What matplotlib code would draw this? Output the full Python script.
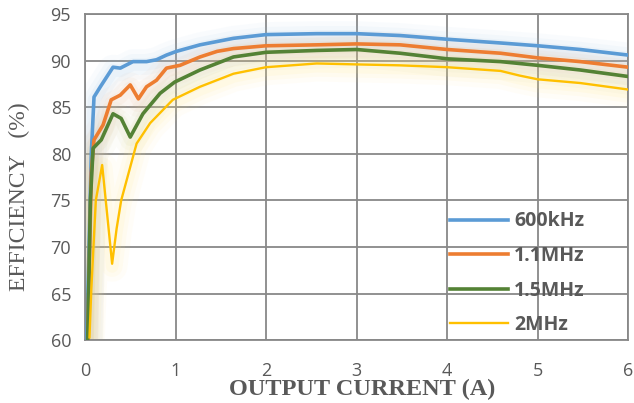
import matplotlib
matplotlib.use('Agg')
import matplotlib.pyplot as plt

# efficiency vs output current for four switching frequencies
x_600k = [0.02, 0.07, 0.10, 0.17, 0.31, 0.39, 0.53, 0.68, 0.79, 0.90, 1.01, 1.27, 1.64, 2.0, 2.56, 3.0, 3.48, 4.0, 4.59, 5.0, 5.47, 6.0]
y_600k = [60.0, 80.0, 86.1, 87.2, 89.3, 89.2, 89.9, 89.9, 90.1, 90.6, 91.0, 91.7, 92.4, 92.8, 92.9, 92.9, 92.7, 92.3, 91.9, 91.6, 91.2, 90.6]

x_1m1 = [0.03, 0.07, 0.10, 0.20, 0.29, 0.39, 0.50, 0.59, 0.68, 0.79, 0.90, 1.05, 1.27, 1.46, 1.64, 2.0, 2.56, 3.0, 3.48, 4.0, 4.59, 5.0, 5.47, 6.0]
y_1m1 = [60.0, 78.0, 81.5, 83.1, 85.8, 86.3, 87.4, 85.9, 87.2, 87.9, 89.2, 89.5, 90.4, 91.0, 91.3, 91.6, 91.7, 91.8, 91.7, 91.2, 90.8, 90.3, 89.9, 89.3]

x_1m5 = [0.03, 0.06, 0.09, 0.18, 0.31, 0.40, 0.50, 0.64, 0.83, 0.99, 1.27, 1.64, 2.0, 2.56, 3.0, 3.48, 4.0, 4.59, 5.0, 5.47, 6.0]
y_1m5 = [60.0, 75.0, 80.6, 81.5, 84.3, 83.8, 81.8, 84.3, 86.5, 87.7, 89.0, 90.4, 90.9, 91.1, 91.2, 90.8, 90.2, 89.9, 89.5, 89.0, 88.3]

x_2m = [0.05, 0.07, 0.12, 0.19, 0.24, 0.30, 0.35, 0.40, 0.57, 0.72, 0.97, 1.27, 1.64, 2.0, 2.56, 3.0, 3.48, 4.0, 4.59, 4.8, 5.0, 5.47, 6.0]
y_2m = [60.3, 65.4, 75.0, 78.8, 74.0, 68.2, 72.0, 75.0, 81.1, 83.3, 85.8, 87.2, 88.6, 89.3, 89.7, 89.6, 89.5, 89.3, 88.9, 88.4, 88.0, 87.6, 86.9]

labels = ['600kHz', '1.1MHz', '1.5MHz', '2MHz']
colors = ['#5B9BD5', '#ED7D31', '#548235', '#FFC000']
glows = ['#9CC3E8', '#E8B48E', '#C9C58A', '#FFE680']
widths = [2.6, 2.6, 2.6, 1.7]
series = [(x_600k, y_600k), (x_1m1, y_1m1), (x_1m5, y_1m5), (x_2m, y_2m)]

tick_font = 'Open Sans'
grey = '#595959'

fig = plt.figure(figsize=(6.34, 4.03), dpi=100)
ax = fig.add_axes([0.134, 0.156, 0.857, 0.809])

# soft glow under each curve
for (xs, ys), g in zip(series, glows):
    for lw, a in [(22, 0.05), (15, 0.07), (9, 0.09)]:
        ax.plot(xs, [v - 0.3 for v in ys], color=g, lw=lw, alpha=a,
                solid_capstyle='round', solid_joinstyle='round', zorder=2)

for (xs, ys), c, lw, lab in zip(series, colors, widths, labels):
    ax.plot(xs, ys, color=c, lw=lw, label=lab, zorder=3,
            solid_joinstyle='round')

ax.set_xlim(0, 6)
ax.set_ylim(60, 95)
ax.set_xticks(range(0, 7))
ax.set_yticks(range(60, 96, 5))
ax.grid(True, color='#888888', lw=1.3)
ax.set_axisbelow(True)
for s in ax.spines.values():
    s.set_color('#888888')
    s.set_linewidth(1.3)
ax.tick_params(length=0, labelsize=13, colors=grey)
ax.tick_params(axis='x', pad=16)
ax.tick_params(axis='y', pad=10)
for t in ax.get_xticklabels() + ax.get_yticklabels():
    t.set_fontfamily(tick_font)

ax.set_xlabel('OUTPUT CURRENT (A)', fontfamily='Liberation Serif', fontweight='bold',
              fontsize=17.5, color=grey)
ax.xaxis.set_label_coords(0.51, -0.12)
ax.set_ylabel('EFFICIENCY   (%)', fontfamily='Liberation Serif', fontsize=17,
              color=grey)
ax.yaxis.set_label_coords(-0.102, 0.44)

leg = ax.legend(loc='center left', bbox_to_anchor=(0.672, 0.205), frameon=False,
                borderpad=0, borderaxespad=0,
                handlelength=3.0, handletextpad=0.3, labelspacing=0.75,
                prop={'family': tick_font, 'weight': 'bold', 'size': 14})
for t in leg.get_texts():
    t.set_color(grey)

fig.savefig('out.png', dpi=100)
